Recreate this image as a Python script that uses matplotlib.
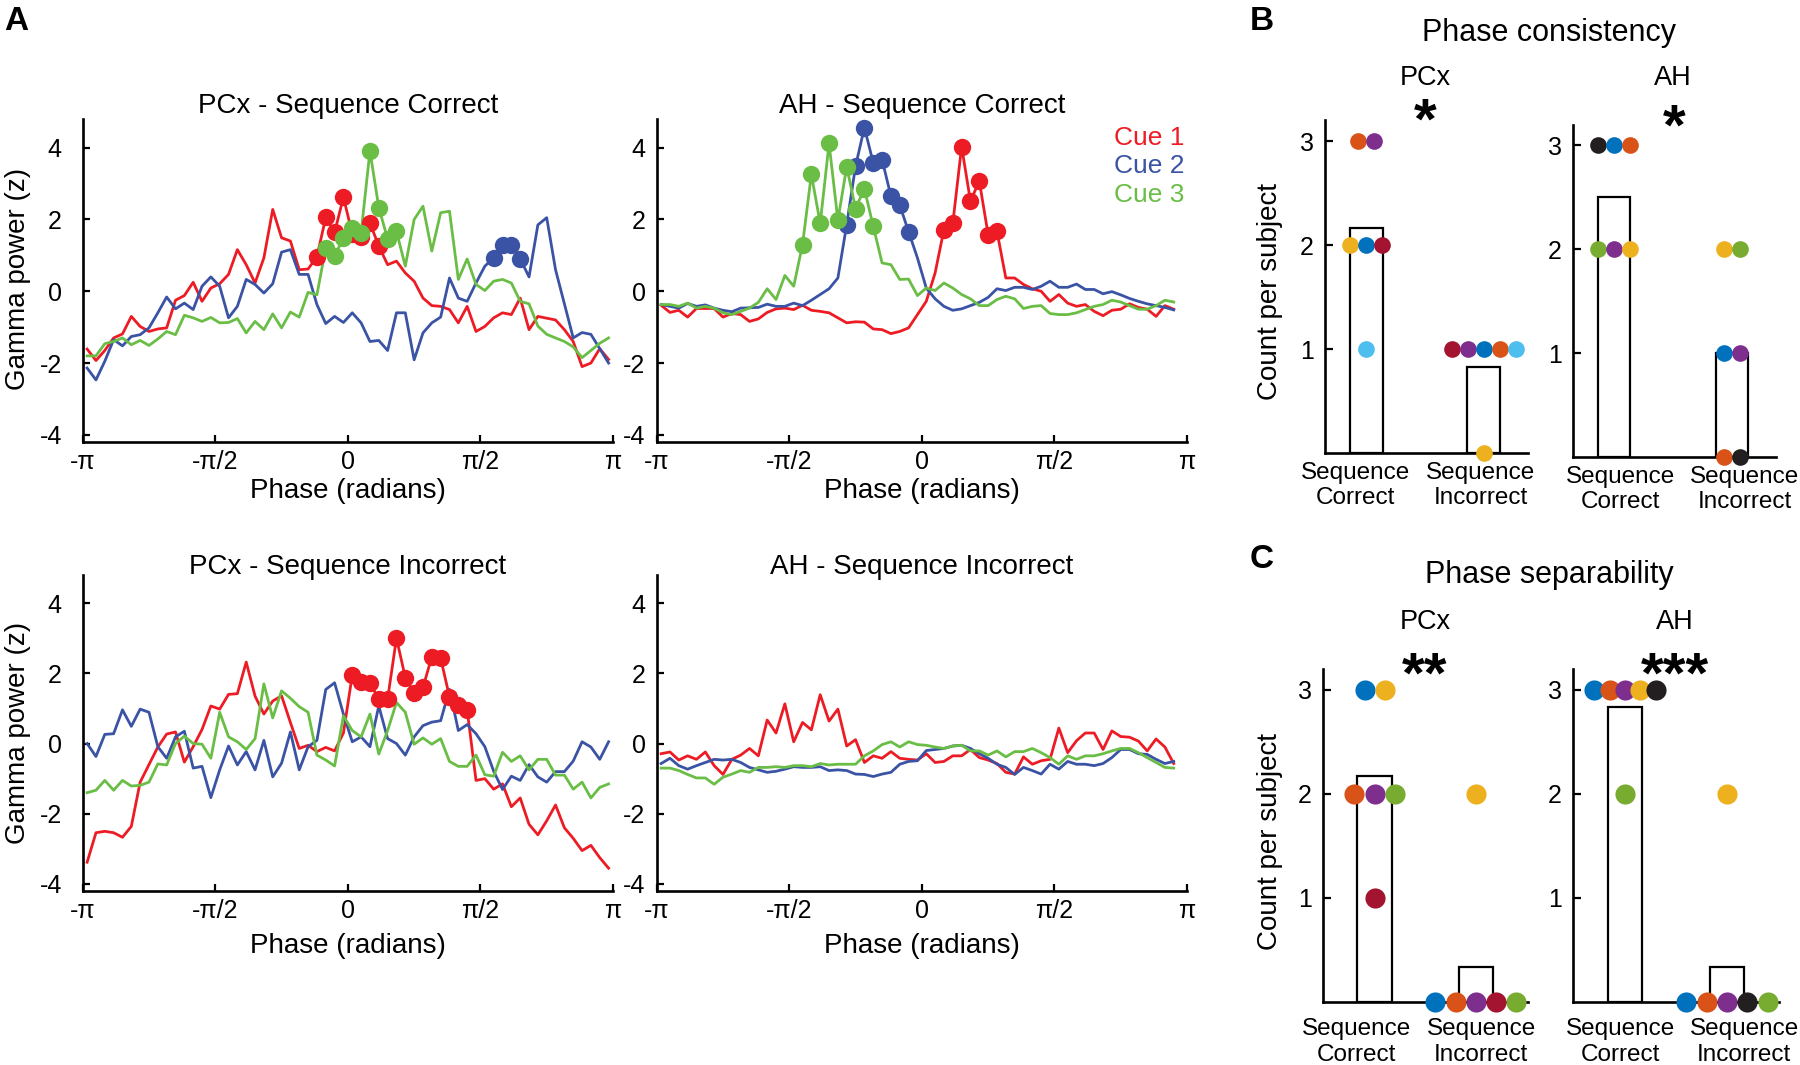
import numpy as np
import matplotlib
matplotlib.use('Agg')
from matplotlib import pyplot as plt

plt.rcParams['font.family'] = ['Liberation Sans', 'DejaVu Sans']
plt.rcParams['axes.unicode_minus'] = False

W, H = 1800, 1065

# ---- gamma power by phase bin (60 bins from -pi to pi) ----
n_bins = 60
phase_ticks = [-np.pi, -np.pi / 2, 0, np.pi / 2, np.pi]
phase_labels = ['-π', '-π/2', '0', 'π/2', 'π']
z_ticks = [-4, -2, 0, 2, 4]
cue_names = ['Cue 1', 'Cue 2', 'Cue 3']

pcx_cor_cue1 = [-1.61, -1.93, -1.65, -1.30, -1.19, -0.70, -0.98, -1.12, -1.05, -1.02,
                -0.25, -0.12, 0.25, -0.28, 0.09, 0.21, 0.47, 1.16, 0.74, 0.23,
                0.93, 2.28, 1.49, 1.40, 0.60, 0.62, 0.96, 2.06, 1.64, 2.62,
                1.60, 1.50, 1.90, 1.26, 0.74, 0.84, 0.51, 0.28, -0.19, -0.40,
                -0.42, -0.51, -0.88, -0.42, -1.12, -0.98, -0.74, -0.60, -0.65, -0.19,
                -1.07, -0.70, -0.75, -0.80, -1.07, -1.40, -2.10, -2.00, -1.60, -1.90]
pcx_cor_cue2 = [-2.14, -2.47, -1.95, -1.35, -1.52, -1.26, -1.21, -1.02, -0.60, -0.16,
                -0.49, -0.33, -0.51, 0.14, 0.40, 0.14, -0.74, -0.42, 0.33, 0.19,
                -0.05, 0.21, 1.09, 1.16, 0.47, 0.47, -0.37, -0.90, -0.70, -0.87,
                -0.60, -0.88, -1.40, -1.37, -1.65, -0.60, -0.60, -1.91, -1.16, -0.88,
                -0.72, 0.37, -0.19, -0.28, 0.23, 0.70, 0.93, 1.30, 1.30, 0.90,
                0.40, 1.85, 2.05, 0.60, -0.35, -1.30, -1.15, -1.20, -1.60, -2.00]
pcx_cor_cue3 = [-1.80, -1.80, -1.46, -1.40, -1.30, -1.49, -1.37, -1.51, -1.33, -1.12,
                -1.21, -0.67, -0.74, -0.84, -0.73, -0.88, -0.87, -0.76, -1.16, -0.84,
                -1.07, -0.63, -1.02, -0.58, -0.72, -0.03, -0.10, 1.21, 0.98, 1.49,
                1.77, 1.63, 3.91, 2.33, 1.46, 1.67, 0.70, 2.00, 2.37, 1.12,
                2.19, 2.23, 0.33, 0.90, 0.19, 0.02, 0.28, 0.33, 0.23, -0.28,
                -0.35, -0.97, -1.20, -1.30, -1.40, -1.55, -1.85, -1.65, -1.45, -1.30]

ah_cor_cue1 = [-0.39, -0.59, -0.53, -0.72, -0.48, -0.48, -0.48, -0.72, -0.62, -0.65,
               -0.84, -0.77, -0.59, -0.49, -0.47, -0.51, -0.39, -0.53, -0.56, -0.60,
               -0.74, -0.88, -0.85, -0.86, -1.05, -1.07, -1.18, -1.12, -1.02, -0.65,
               -0.28, 0.51, 1.72, 1.89, 4.03, 2.51, 3.07, 1.58, 1.67, 0.37,
               0.37, 0.19, 0.07, 0.00, -0.28, -0.09, -0.33, -0.42, -0.37, -0.56,
               -0.68, -0.53, -0.50, -0.35, -0.45, -0.50, -0.70, -0.40, -0.50]
ah_cor_cue2 = [-0.37, -0.42, -0.47, -0.34, -0.42, -0.38, -0.47, -0.53, -0.57, -0.47,
               -0.46, -0.45, -0.36, -0.42, -0.42, -0.33, -0.40, -0.25, -0.09, 0.07,
               0.37, 1.86, 3.49, 4.56, 3.58, 3.67, 2.65, 2.40, 1.66, 0.93,
               0.09, -0.21, -0.42, -0.53, -0.49, -0.40, -0.31, -0.17, 0.07, 0.02,
               0.11, 0.11, 0.05, 0.14, 0.28, 0.11, 0.11, 0.20, 0.05, 0.05,
               -0.07, -0.01, -0.10, -0.20, -0.28, -0.35, -0.40, -0.45, -0.52]
ah_cor_cue3 = [-0.37, -0.37, -0.42, -0.33, -0.47, -0.42, -0.47, -0.60, -0.65, -0.56,
               -0.47, -0.31, 0.07, -0.23, 0.44, 0.14, 1.30, 3.26, 1.89, 4.12,
               1.98, 3.47, 2.30, 2.86, 1.81, 0.79, 0.74, 0.33, 0.34, -0.12,
               0.09, 0.02, 0.23, 0.09, -0.09, -0.21, -0.40, -0.40, -0.23, -0.14,
               -0.21, -0.48, -0.42, -0.40, -0.62, -0.65, -0.65, -0.60, -0.51, -0.42,
               -0.37, -0.25, -0.30, -0.40, -0.50, -0.50, -0.40, -0.25, -0.30]

pcx_inc_cue1 = [-3.38, -2.54, -2.50, -2.54, -2.67, -2.36, -1.10, -0.60, -0.10, 0.27,
                0.33, -0.53, -0.09, 0.40, 1.07, 0.98, 1.40, 1.42, 2.32, 1.35,
                0.84, 1.21, 1.36, 0.60, -0.14, -0.05, -0.23, -0.11, -0.21, 0.30,
                1.95, 1.75, 1.72, 1.27, 1.27, 3.00, 1.88, 1.43, 1.60, 2.47,
                2.43, 1.33, 1.11, 0.96, -1.05, -1.00, -1.30, -1.15, -1.80, -1.55,
                -2.30, -2.60, -2.20, -1.75, -2.40, -2.70, -3.05, -2.90, -3.25, -3.55]
pcx_inc_cue2 = [0.00, -0.37, 0.26, 0.28, 0.96, 0.49, 0.98, 0.89, -0.09, -0.42,
                0.19, 0.35, -0.70, -0.65, -1.54, -0.75, -0.07, -0.61, -0.23, -0.75,
                0.09, -0.95, -0.56, 0.33, -0.75, -0.09, 0.09, 1.54, 1.73, 0.84,
                0.05, 0.19, -0.09, 1.07, 0.14, 0.00, -0.33, 0.19, 0.51, 0.61,
                0.65, 1.54, 0.37, 0.54, 0.28, -0.09, -0.79, -1.31, -0.93, -1.05,
                -0.60, -0.95, -1.10, -0.80, -0.80, -0.50, 0.05, -0.10, -0.45, 0.05]
pcx_inc_cue3 = [-1.40, -1.33, -1.05, -1.33, -1.05, -1.21, -1.19, -1.10, -0.58, -0.61,
                0.00, 0.21, 0.00, -0.02, -0.42, 0.89, 0.19, 0.05, -0.17, 0.14,
                1.70, 0.73, 1.50, 1.29, 1.05, 0.89, -0.33, -0.47, -0.64, 0.79,
                0.37, 0.19, 0.84, -0.30, 0.37, 1.17, 0.89, -0.02, 0.16, -0.02,
                0.14, -0.51, -0.65, -0.65, -0.33, -0.89, -0.93, -0.25, -0.51, -0.35,
                -0.75, -0.45, -0.45, -0.90, -0.90, -1.30, -1.10, -1.55, -1.25, -1.15]

ah_inc_cue1 = [-0.29, -0.24, -0.47, -0.35, -0.45, -0.24, -0.63, -0.88, -0.45, -0.33,
               -0.14, -0.35, 0.67, 0.30, 1.13, 0.05, 0.60, 0.39, 1.39, 0.64,
               0.98, -0.07, 0.11, -0.54, -0.35, -0.42, -0.23, -0.42, -0.45, -0.47,
               -0.29, -0.54, -0.51, -0.35, -0.35, -0.17, -0.40, -0.47, -0.57, -0.82,
               -0.87, -0.38, -0.59, -0.49, -0.45, 0.44, -0.26, 0.08, 0.30, 0.30,
               -0.17, 0.36, 0.20, 0.18, 0.07, -0.21, 0.13, -0.10, -0.57]
ah_inc_cue2 = [-0.57, -0.42, -0.63, -0.73, -0.63, -0.54, -0.45, -0.47, -0.45, -0.54,
               -0.68, -0.75, -0.82, -0.79, -0.73, -0.66, -0.68, -0.68, -0.66, -0.77,
               -0.75, -0.77, -0.87, -0.88, -0.94, -0.87, -0.82, -0.59, -0.51, -0.49,
               -0.20, -0.17, -0.14, -0.07, -0.05, -0.14, -0.29, -0.42, -0.59, -0.68,
               -0.88, -0.68, -0.77, -0.87, -0.59, -0.73, -0.51, -0.59, -0.59, -0.63,
               -0.57, -0.40, -0.17, -0.17, -0.29, -0.31, -0.45, -0.57, -0.51]
ah_inc_cue3 = [-0.70, -0.70, -0.77, -0.88, -0.98, -0.98, -1.16, -0.96, -0.87, -0.77,
               -0.82, -0.68, -0.68, -0.66, -0.68, -0.63, -0.63, -0.66, -0.57, -0.61,
               -0.59, -0.59, -0.59, -0.35, -0.21, -0.03, 0.05, -0.10, 0.05, -0.03,
               -0.05, -0.10, -0.14, -0.07, -0.05, -0.21, -0.21, -0.33, -0.21, -0.38,
               -0.23, -0.23, -0.14, -0.26, -0.40, -0.59, -0.35, -0.45, -0.35, -0.35,
               -0.29, -0.21, -0.14, -0.14, -0.26, -0.40, -0.54, -0.68, -0.70]

# significant bins (first, last) per cue, None = no significant bins
pcx_cor_sig = [(26, 33), (46, 49), (27, 35)]
ah_cor_sig = [(32, 38), (21, 28), (16, 24)]
pcx_inc_sig = [(30, 43), None, None]
ah_inc_sig = [None, None, None]

# ---- per subject counts (value, colour) ----
c_blue, c_orange, c_yellow = '#0072BD', '#D95319', '#EDB120'
c_purple, c_green, c_cyan = '#7E2F8E', '#77AC30', '#4DBEEE'
c_dred, c_black = '#A2142F', '#231F20'

cons_pcx_cor = [3, 3, 2, 2, 2, 1]
cons_pcx_cor_col = [c_orange, c_purple, c_yellow, c_blue, c_dred, c_cyan]
cons_pcx_inc = [1, 1, 1, 1, 1, 0]
cons_pcx_inc_col = [c_dred, c_purple, c_blue, c_orange, c_cyan, c_yellow]
cons_ah_cor = [3, 3, 3, 2, 2, 2]
cons_ah_cor_col = [c_black, c_blue, c_orange, c_green, c_purple, c_yellow]
cons_ah_inc = [2, 2, 1, 1, 0, 0]
cons_ah_inc_col = [c_yellow, c_green, c_blue, c_purple, c_orange, c_black]

sep_pcx_cor = [3, 3, 2, 2, 2, 1]
sep_pcx_cor_col = [c_blue, c_yellow, c_orange, c_purple, c_green, c_dred]
sep_pcx_inc = [2, 0, 0, 0, 0, 0]
sep_pcx_inc_col = [c_yellow, c_blue, c_orange, c_purple, c_dred, c_green]
sep_ah_cor = [3, 3, 3, 3, 3, 2]
sep_ah_cor_col = [c_blue, c_orange, c_purple, c_yellow, c_black, c_green]
sep_ah_inc = [2, 0, 0, 0, 0, 0]
sep_ah_inc_col = [c_yellow, c_blue, c_orange, c_purple, c_black, c_green]

group_labels = ['Sequence\nCorrect', 'Sequence\nIncorrect']

cue_colors = ['#ED1C24', '#3A53A4', '#6ABD45']

fig = plt.figure(figsize=(18, 10.65), dpi=100)


def rect(l, t, r, b):
    # pixel box -> figure fraction
    return [l / W, 1 - b / H, (r - l) / W, (b - t) / H]


def ftext(x, y, s, **kw):
    fig.text(x / W, 1 - y / H, s, **kw)


def gamma_panel(box, curves, sigs, ypad):
    ax = fig.add_axes(rect(*box))
    for y, sig, c in zip(curves, sigs, cue_colors):
        y = np.array(y)
        x = -np.pi + (np.arange(len(y)) + 0.5) * 2 * np.pi / n_bins
        ax.plot(x, y, color=c, lw=2.0, zorder=2)
        if sig is not None:
            s = slice(sig[0], sig[1] + 1)
            ax.plot(x[s], y[s], 'o', color=c, ms=12.5, mew=0, zorder=3)
    ax.set_xlim(-np.pi, np.pi)
    ax.set_ylim(-4.2, 4.8)
    ax.set_xticks(phase_ticks)
    ax.set_xticklabels(phase_labels)
    ax.set_yticks(z_ticks)
    ax.set_yticklabels([str(v) for v in z_ticks])
    for sp in ['top', 'right']:
        ax.spines[sp].set_visible(False)
    for sp in ['left', 'bottom']:
        ax.spines[sp].set_linewidth(1.9)
    ax.tick_params(direction='in', length=5, width=1.6, labelsize=18)
    ax.tick_params(axis='x', pad=6)
    ax.tick_params(axis='y', pad=ypad)
    return ax


def count_panel(box, groups, xlim, bar_w, spacing, ms, label_pos, xpad):
    ax = fig.add_axes(rect(*box))
    for k, (vals, cols) in enumerate(groups):
        xc = k + 1
        ax.bar(xc, np.mean(vals), width=bar_w, facecolor='white',
               edgecolor='black', lw=1.6, zorder=2)
        for v in sorted(set(vals), reverse=True):
            idx = [i for i, vv in enumerate(vals) if vv == v]
            offs = (np.arange(len(idx)) - (len(idx) - 1) / 2) * spacing[k]
            for o, i in zip(offs, idx):
                ax.plot(xc + o, v, 'o', color=cols[i], ms=ms, mew=0,
                        clip_on=False, zorder=4)
    ax.set_xlim(*xlim)
    ax.set_ylim(0, 3.2)
    ax.set_yticks([1, 2, 3])
    ax.set_xticks(label_pos)
    ax.set_xticklabels(group_labels, fontsize=17.5)
    for sp in ['top', 'right']:
        ax.spines[sp].set_visible(False)
    for sp in ['left', 'bottom']:
        ax.spines[sp].set_linewidth(1.9)
        ax.spines[sp].set_zorder(3)
    ax.tick_params(axis='y', direction='in', length=6, width=1.6, labelsize=18, pad=8)
    ax.tick_params(axis='x', length=0, pad=xpad)
    return ax


# A: gamma power panels
gamma_panel((82.7, 119, 613, 442), [pcx_cor_cue1, pcx_cor_cue2, pcx_cor_cue3], pcx_cor_sig, 15)
gamma_panel((656.7, 119, 1187, 442), [ah_cor_cue1, ah_cor_cue2, ah_cor_cue3], ah_cor_sig, 8)
gamma_panel((82.7, 575, 613, 891), [pcx_inc_cue1, pcx_inc_cue2, pcx_inc_cue3], pcx_inc_sig, 15)
gamma_panel((656.7, 575, 1187, 891), [ah_inc_cue1, ah_inc_cue2, ah_inc_cue3], ah_inc_sig, 8)

ftext(348, 106, 'PCx - Sequence Correct', fontsize=20, ha='center', va='center')
ftext(922, 106, 'AH - Sequence Correct', fontsize=20, ha='center', va='center')
ftext(348, 567, 'PCx - Sequence Incorrect', fontsize=20, ha='center', va='center')
ftext(922, 567, 'AH - Sequence Incorrect', fontsize=20, ha='center', va='center')
for x, y in [(348, 491), (922, 491), (348, 946), (922, 946)]:
    ftext(x, y, 'Phase (radians)', fontsize=20, ha='center', va='center')
ftext(18, 279, 'Gamma power (z)', fontsize=20, rotation=90, ha='center', va='center')
ftext(18, 733, 'Gamma power (z)', fontsize=20, rotation=90, ha='center', va='center')
for name, c, y in zip(cue_names, cue_colors, [138, 166, 195]):
    ftext(1184, y, name, fontsize=19, color=c, ha='right', va='center')

# B: phase consistency
count_panel((1325, 120.5, 1527.5, 453.3),
            [(cons_pcx_cor, cons_pcx_cor_col), (cons_pcx_inc, cons_pcx_inc_col)],
            (0.65, 2.37), 0.28, [0.135, 0.135], 12, [0.91, 1.975], 6)
count_panel((1573, 124.5, 1776, 457.3),
            [(cons_ah_cor, cons_ah_cor_col), (cons_ah_inc, cons_ah_inc_col)],
            (0.65, 2.37), 0.27, [0.135, 0.135], 12, [1.055, 2.107], 6)
# C: phase separability
count_panel((1323, 668.9, 1527.5, 1001.7),
            [(sep_pcx_cor, sep_pcx_cor_col), (sep_pcx_inc, sep_pcx_inc_col)],
            (0.49, 2.51), 0.34, [0.2, 0.2], 14.5, [0.817, 2.052], 12)
count_panel((1573, 668.9, 1779, 1001.7),
            [(sep_ah_cor, sep_ah_cor_col), (sep_ah_inc, sep_ah_inc_col)],
            (0.49, 2.51), 0.34, [0.15, 0.2], 14.5, [0.956, 2.17], 12)

ftext(1270, 291, 'Count per subject', fontsize=20, rotation=90, ha='center', va='center')
ftext(1270, 842, 'Count per subject', fontsize=20, rotation=90, ha='center', va='center')
ftext(1549, 33, 'Phase consistency', fontsize=22, ha='center', va='center')
ftext(1549, 575, 'Phase separability', fontsize=22, ha='center', va='center')
ftext(1425, 78, 'PCx', fontsize=19.5, ha='center', va='center')
ftext(1673, 78, 'AH', fontsize=19.5, ha='center', va='center')
ftext(1425, 622, 'PCx', fontsize=19.5, ha='center', va='center')
ftext(1675, 622, 'AH', fontsize=19.5, ha='center', va='center')
ftext(1425, 124, '*', fontsize=42, fontweight='bold', ha='center', va='center')
ftext(1674, 130, '*', fontsize=42, fontweight='bold', ha='center', va='center')
ftext(1425, 678, '**', fontsize=42, fontweight='bold', ha='center', va='center')
ftext(1675, 678, '***', fontsize=42, fontweight='bold', ha='center', va='center')

# panel letters
ftext(16, 21, 'A', fontsize=24, fontweight='bold', ha='center', va='center')
ftext(1262, 21, 'B', fontsize=24, fontweight='bold', ha='center', va='center')
ftext(1262, 560, 'C', fontsize=24, fontweight='bold', ha='center', va='center')

fig.savefig('out.png', dpi=100)
